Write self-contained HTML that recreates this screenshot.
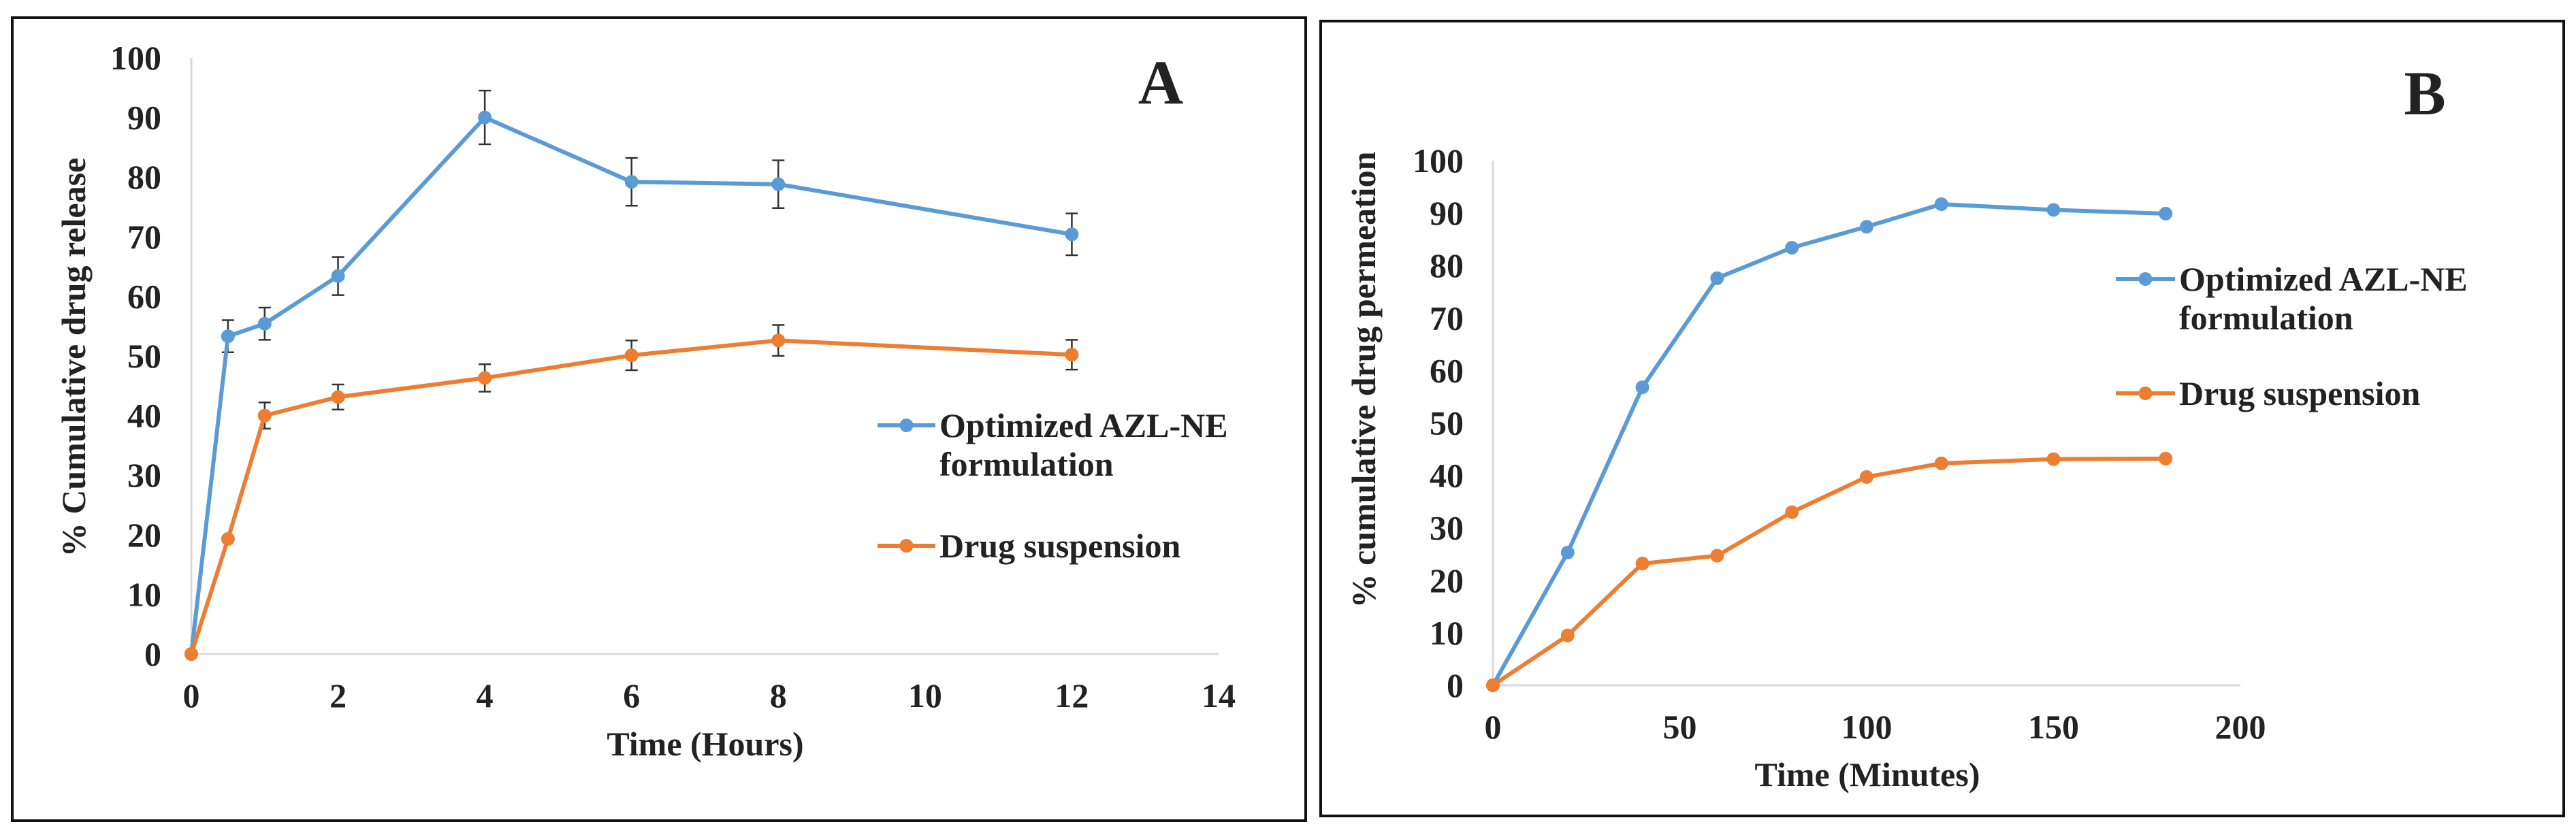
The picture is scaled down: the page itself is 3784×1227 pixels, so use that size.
<!DOCTYPE html>
<html><head><meta charset="utf-8"><style>
html,body{margin:0;padding:0;background:#fff}
svg{display:block}
text{font-family:"Liberation Serif",serif;font-weight:bold;fill:#222}
</style></head><body>
<svg id="fig" width="3784" height="1227" viewBox="0 0 3784 1227">
<rect x="18" y="26" width="1900" height="1180" fill="none" stroke="#111" stroke-width="4"/>
<rect x="1940" y="31" width="1826" height="1168" fill="none" stroke="#111" stroke-width="4"/>
<g id="ga"></g>
<g id="gb"></g>
</svg>
<script>
// Panel A data
const aX=[0,0.5,1,2,4,6,8,12];
const aBlue=[0,53.3,55.4,63.4,90.0,79.2,78.8,70.4];
const aBlueErr=[0,2.7,2.7,3.2,4.5,4,4,3.5];
const aOrange=[0,19.3,40,43.1,46.3,50.1,52.6,50.2];
const aOrangeErr=[0,0,2.2,2.1,2.3,2.5,2.6,2.5];
const aXTicks=[0,2,4,6,8,10,12,14];
const aYTicks=[0,10,20,30,40,50,60,70,80,90,100];
// Panel B data
const bX=[0,20,40,60,80,100,120,150,180];
const bBlue=[0,25.3,56.8,77.6,83.4,87.4,91.7,90.6,89.9];
const bOrange=[0,9.5,23.2,24.7,33,39.7,42.3,43.1,43.2];
const bXTicks=[0,50,100,150,200];
const bYTicks=[0,10,20,30,40,50,60,70,80,90,100];

const NS='http://www.w3.org/2000/svg';
function el(parent,tag,attrs,txt){const e=document.createElementNS(NS,tag);for(const k in attrs)e.setAttribute(k,attrs[k]);if(txt!==undefined)e.textContent=txt;parent.appendChild(e);return e;}
const BLUE='#5b9bd5',ORANGE='#ed7d31';

function drawPanel(g,cfg){
  const sx=v=>cfg.x0+(v-cfg.xmin)/(cfg.xmax-cfg.xmin)*(cfg.x1-cfg.x0);
  const sy=v=>cfg.y0-(v/100)*(cfg.y0-cfg.y1);
  let e;
  e=el(g,'line',{x1:cfg.x0,y1:cfg.y0,x2:cfg.x1,y2:cfg.y0,stroke:'#d9d9d9','stroke-width':3});
  
  
  e=el(g,'line',{x1:cfg.x0,y1:cfg.y0,x2:cfg.x0,y2:cfg.y1,stroke:'#d9d9d9','stroke-width':3});
  
  
  cfg.yt.forEach(v=>{
    const t=el(g,'text',{x:cfg.ylabX,y:sy(v)+17,'text-anchor':'end','font-size':50},String(v));
    
    
  });
  cfg.xt.forEach(v=>{
    const t=el(g,'text',{x:sx(v),y:cfg.xlabY,'text-anchor':'middle','font-size':50},String(v));
    
    
  });
  e=el(g,'text',{x:cfg.xtX,y:cfg.xtY,'text-anchor':'middle','font-size':50},cfg.xtitle);
  
  
  e=el(g,'text',{x:0,y:0,'text-anchor':'middle','font-size':50,transform:`translate(${cfg.ytX},${cfg.ytY}) rotate(-90)`},cfg.ytitle);
  
  
  e=el(g,'text',{x:cfg.lblX,y:cfg.lblY,'text-anchor':'middle','font-size':92},cfg.label);
  
  
  cfg.series.forEach(s=>{
    const sg=el(g,'g',{});
    
    
    if(s.err){
      s.vals.forEach((v,i)=>{
        if(!s.err[i])return;
        const x=sx(cfg.xs[i]),ya=sy(v+s.err[i]),yb=sy(v-s.err[i]);
        const eb=el(sg,'path',{d:`M${x},${ya}V${yb}M${x-9},${ya}H${x+9}M${x-9},${yb}H${x+9}`,stroke:'#333','stroke-width':2.5,fill:'none'});
        
        
      });
    }
    const pts=s.vals.map((v,i)=>sx(cfg.xs[i])+','+sy(v)).join(' ');
    const pl=el(sg,'polyline',{points:pts,fill:'none',stroke:s.color,'stroke-width':6,'stroke-linejoin':'round'});
    
    
    s.vals.forEach((v,i)=>{
      const c=el(sg,'circle',{cx:sx(cfg.xs[i]),cy:sy(v),r:10,fill:s.color});
      
      
    });
  });
  cfg.legend.forEach(l=>{
    const lg=el(g,'g',{});
    
    
    el(lg,'line',{x1:l.x1,x2:l.x2,y1:l.y,y2:l.y,stroke:l.color,'stroke-width':6});
    el(lg,'circle',{cx:(l.x1+l.x2)/2,cy:l.y,r:10,fill:l.color});
    l.lines.forEach((txt,k)=>{el(lg,'text',{x:l.x2+6,y:l.y+17+k*57,'font-size':50},txt);});
  });
}

drawPanel(document.getElementById('ga'),{
  x0:281,x1:1790,xmin:0,xmax:14,y0:961,y1:85,xs:aX,
  xt:aXTicks,yt:aYTicks,ylabX:237,xlabY:1039,
  xtitle:'Time (Hours)',xtX:1036,xtY:1110,
  ytitle:'% Cumulative drug release',ytX:125,ytY:525,
  label:'A',lblX:1705,lblY:152,
  series:[{name:'series-optimized-azl-ne',vals:aBlue,err:aBlueErr,color:BLUE},{name:'series-drug-suspension',vals:aOrange,err:aOrangeErr,color:ORANGE}],
  legend:[{x1:1289,x2:1374,y:625,color:BLUE,lines:['Optimized AZL-NE','formulation']},{x1:1289,x2:1374,y:802,color:ORANGE,lines:['Drug suspension']}]
});
drawPanel(document.getElementById('gb'),{
  x0:2193,x1:3291,xmin:0,xmax:200,y0:1007,y1:236,xs:bX,
  xt:bXTicks,yt:bYTicks,ylabX:2150,xlabY:1085,
  xtitle:'Time (Minutes)',xtX:2743,xtY:1155,
  ytitle:'% cumulative drug permeation',ytX:2020,ytY:558,
  label:'B',lblX:3562,lblY:168,
  series:[{name:'series-optimized-azl-ne',vals:bBlue,color:BLUE},{name:'series-drug-suspension',vals:bOrange,color:ORANGE}],
  legend:[{x1:3108,x2:3195,y:410,color:BLUE,lines:['Optimized AZL-NE','formulation']},{x1:3108,x2:3195,y:578,color:ORANGE,lines:['Drug suspension']}]
});
</script>
</body></html>
